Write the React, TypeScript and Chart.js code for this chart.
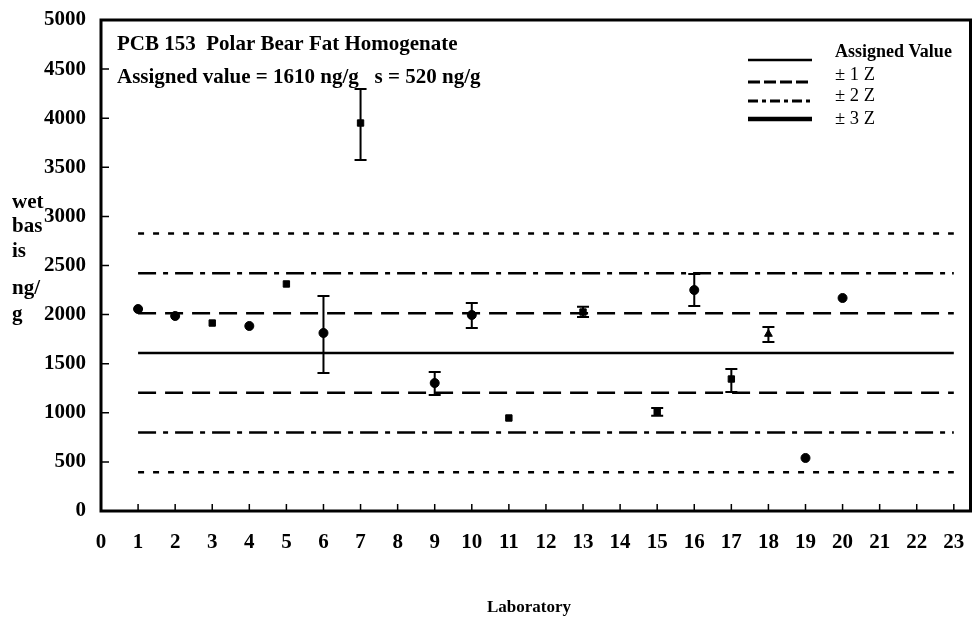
import React, { useEffect, useRef } from "react";
import { Chart, registerables } from "chart.js";

Chart.register(...registerables);

// ---- data ----
const LABS = [1, 2, 3, 4, 5, 6, 7, 9, 10, 11, 13, 15, 16, 17, 18, 19, 20];
const VALUES = [2057, 1986, 1914, 1884, 2312, 1813, 3951, 1303, 1996, 947, 2026, 1008, 2250, 1344, 1802, 540, 2169];
const ERR_LOW = [null, null, null, null, null, 1405, 3574, 1181, 1864, null, 1975, 970, 2088, 1212, 1721, null, null];
const ERR_HIGH = [null, null, null, null, null, 2189, 4297, 1415, 2118, null, 2080, 1050, 2413, 1446, 1874, null, null];
const MARKERS = ["circle", "circle", "rect", "circle", "rect", "circle", "rect", "circle", "circle", "rect", "rect", "rect", "circle", "rect", "triangle", "circle", "circle"];

const ASSIGNED = 1610;
const Z1 = [2015, 1205];
const Z2 = [2420, 800];
const Z3 = [2825, 395];
const LINE_FROM = 1;
const LINE_TO = 23;

const Y_TICKS = [0, 500, 1000, 1500, 2000, 2500, 3000, 3500, 4000, 4500, 5000];
const X_TICKS = [0, 1, 2, 3, 4, 5, 6, 7, 8, 9, 10, 11, 12, 13, 14, 15, 16, 17, 18, 19, 20, 21, 22, 23];
const X_MAX = 23.45;

const TITLE1 = "PCB 153  Polar Bear Fat Homogenate";
const TITLE2 = "Assigned value = 1610 ng/g   s = 520 ng/g";
const Y_TITLE = ["wet", "bas", "is", "ng/", "g"];
const Y_TITLE_BASE = [208, 232, 257, 294, 320];
const X_TITLE = "Laboratory";
const LEGEND = ["Assigned Value", "\u00b1 1 Z", "\u00b1 2 Z", "\u00b1 3 Z"];

const FONT = "'Liberation Serif', 'Times New Roman', serif";

const DASH1 = [18, 9];
const DASH2 = [18, 7, 5, 7];
const DASH3 = [6, 9];

function hline(y: number, dash: number[], width: number) {
  return {
    type: "line" as const,
    data: [
      { x: LINE_FROM, y },
      { x: LINE_TO, y },
    ],
    borderColor: "#000",
    borderWidth: width,
    borderDash: dash,
    pointRadius: 0,
    fill: false,
  };
}

export default function App() {
  const ref = useRef<HTMLCanvasElement | null>(null);

  useEffect(() => {
    if (!ref.current) return;

    const decor = {
      id: "decor",
      beforeDatasetsDraw(chart: any) {
        const { ctx, chartArea: a } = chart;
        ctx.save();
        ctx.fillStyle = "#000";
        ctx.font = `bold 21px ${FONT}`;
        ctx.textBaseline = "alphabetic";
        ctx.textAlign = "left";
        ctx.fillText(TITLE1, a.left + 16, 50);
        ctx.fillText(TITLE2, a.left + 16, 83);
        ctx.restore();
      },
      afterDatasetsDraw(chart: any) {
        const { ctx, chartArea: a, scales } = chart;
        const xs = scales.x;
        const ys = scales.y;
        ctx.save();
        // error bars
        ctx.strokeStyle = "#000";
        ctx.fillStyle = "#000";
        ctx.lineWidth = 2;
        LABS.forEach((lab, i) => {
          const lo = ERR_LOW[i];
          const hi = ERR_HIGH[i];
          if (lo == null || hi == null) return;
          const px = xs.getPixelForValue(lab);
          const pl = ys.getPixelForValue(lo);
          const ph = ys.getPixelForValue(hi);
          ctx.beginPath();
          ctx.moveTo(px, pl);
          ctx.lineTo(px, ph);
          ctx.moveTo(px - 6, pl);
          ctx.lineTo(px + 6, pl);
          ctx.moveTo(px - 6, ph);
          ctx.lineTo(px + 6, ph);
          ctx.stroke();
        });
        // frame
        ctx.lineWidth = 3;
        ctx.strokeRect(a.left, a.top, a.right - a.left, a.bottom - a.top);
        // inner ticks
        ctx.lineWidth = 1.5;
        ctx.beginPath();
        Y_TICKS.forEach((v) => {
          const py = ys.getPixelForValue(v);
          ctx.moveTo(a.left, py);
          ctx.lineTo(a.left + 8, py);
        });
        X_TICKS.forEach((v) => {
          const px = xs.getPixelForValue(v);
          ctx.moveTo(px, a.bottom);
          ctx.lineTo(px, a.bottom - 7);
        });
        ctx.stroke();

        // legend
        const lx0 = 748;
        const lx1 = 812;
        const tx = 835;
        const rows = [
          { ty: 57, ly: 60, dash: [] as number[], w: 2.5 },
          { ty: 80, ly: 82, dash: [12, 4], w: 3 },
          { ty: 101, ly: 101, dash: [10, 4, 4, 4], w: 3 },
          { ty: 124, ly: 119, dash: [] as number[], w: 4.5 },
        ];
        ctx.textAlign = "left";
        rows.forEach((r, i) => {
          ctx.beginPath();
          ctx.setLineDash(r.dash);
          ctx.lineWidth = r.w;
          ctx.moveTo(lx0, r.ly);
          ctx.lineTo(lx1, r.ly);
          ctx.stroke();
          ctx.setLineDash([]);
          ctx.font = i === 0 ? `bold 18px ${FONT}` : `18.5px ${FONT}`;
          ctx.fillText(LEGEND[i], tx, r.ty);
        });

        // axis titles
        ctx.font = `bold 21px ${FONT}`;
        ctx.textAlign = "left";
        Y_TITLE.forEach((t, i) => {
          ctx.fillText(t, 12, Y_TITLE_BASE[i]);
        });
        ctx.font = `bold 17px ${FONT}`;
        ctx.textAlign = "center";
        ctx.fillText(X_TITLE, 529, 612);
        ctx.restore();
      },
    };

    const chart = new Chart(ref.current, {
      type: "scatter",
      data: {
        datasets: [
          hline(Z3[0], DASH3, 2.5),
          hline(Z3[1], DASH3, 2.5),
          hline(Z2[0], DASH2, 2.5),
          hline(Z2[1], DASH2, 2.5),
          hline(Z1[0], DASH1, 2.5),
          hline(Z1[1], DASH1, 2.5),
          hline(ASSIGNED, [], 2.5),
          {
            type: "scatter" as const,
            data: LABS.map((x, i) => ({ x, y: VALUES[i] })),
            pointStyle: MARKERS as any,
            pointRadius: 4.5,
            backgroundColor: "#000",
            borderColor: "#000",
            borderWidth: 1,
          },
        ] as any,
      },
      options: {
        animation: false,
        responsive: true,
        maintainAspectRatio: false,
        layout: { padding: { top: 20, right: 3, left: 0, bottom: 0 } },
        plugins: {
          legend: { display: false },
          tooltip: { enabled: false },
        },
        scales: {
          x: {
            type: "linear",
            min: 0,
            max: X_MAX,
            grid: { display: false, drawTicks: false },
            border: { display: false },
            ticks: {
              color: "#000",
              padding: 19,
              font: { family: FONT, size: 21, weight: "bold" },
              maxRotation: 0,
              autoSkip: false,
            },
            afterBuildTicks: (s: any) => {
              s.ticks = X_TICKS.map((v) => ({ value: v }));
            },
            afterFit: (s: any) => {
              s.height = 106;
              s.paddingLeft = 0;
              s.paddingRight = 0;
            },
          },
          y: {
            min: 0,
            max: 5000,
            grid: { display: false, drawTicks: false },
            border: { display: false },
            ticks: {
              stepSize: 500,
              color: "#000",
              padding: 15,
              font: { family: FONT, size: 21, weight: "bold" },
              callback: (v: any) => String(v),
            },
            afterBuildTicks: (s: any) => {
              s.ticks = Y_TICKS.map((v) => ({ value: v }));
            },
            afterFit: (s: any) => {
              s.width = 101;
              s.paddingTop = 0;
              s.paddingBottom = 0;
            },
          },
        },
      } as any,
      plugins: [decor],
    });
    return () => chart.destroy();
  }, []);

  return (
    <div style={{ position: "fixed", left: 0, top: 0, width: 976, height: 617, background: "#fff" }}>
      <canvas ref={ref} />
    </div>
  );
}
